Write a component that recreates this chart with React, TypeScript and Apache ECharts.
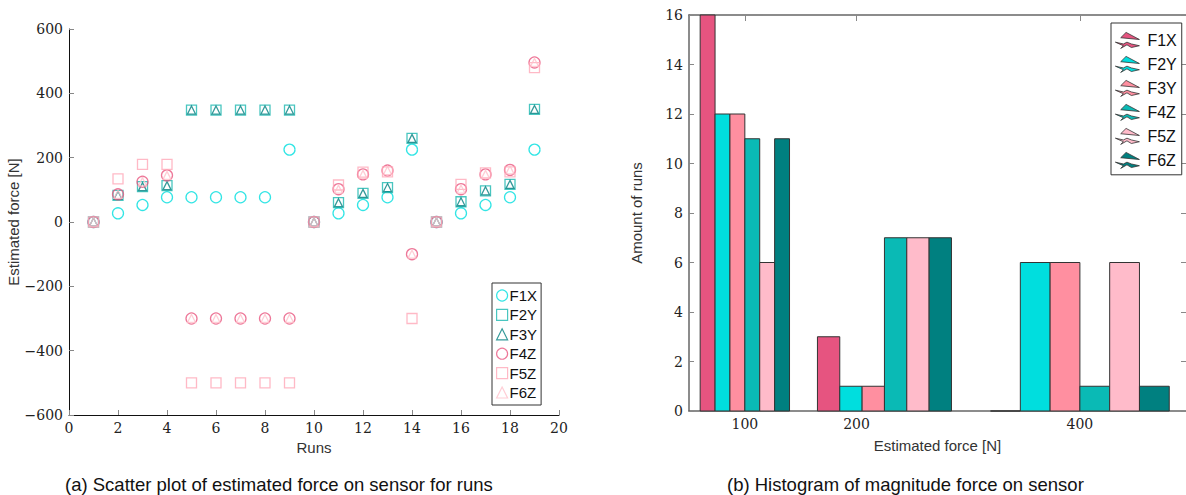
import React, { useEffect, useRef } from "react";
import * as echarts from "echarts";

// ---------- Scatter data (a) ----------
const runs = [1, 2, 3, 4, 5, 6, 7, 8, 9, 10, 11, 12, 13, 14, 15, 16, 17, 18, 19];
const f1x = [0, 27, 53, 77, 77, 77, 77, 77, 225, 0, 27, 53, 77, 225, 0, 27, 53, 77, 225];
const f2y = [0, 83, 110, 113, 348, 348, 348, 348, 348, 0, 60, 89, 107, 260, 0, 63, 97, 117, 350];
const f3y = [0, 83, 110, 113, 348, 348, 348, 348, 348, 0, 60, 89, 107, 260, 0, 63, 97, 117, 350];
const f4z = [0, 86, 125, 145, -300, -300, -300, -300, -300, 0, 102, 148, 160, -100, 0, 102, 148, 162, 496];
const f5z = [0, 134, 179, 179, -500, -500, -500, -500, -500, 0, 115, 155, 156, -300, 0, 117, 153, 156, 480];
const f6z = [0, 86, 125, 145, -300, -300, -300, -300, -300, 0, 102, 148, 160, -100, 0, 102, 148, 162, 496];

// ---------- Histogram data (b) ----------
const binTicks = [100, 200, 400];
const groupLeft = [60, 165, 320];
const groupRight = [140, 285, 480];
const hF1X = [16, 3, 0];
const hF2Y = [12, 1, 6];
const hF3Y = [12, 1, 6];
const hF4Z = [11, 7, 1];
const hF5Z = [6, 7, 6];
const hF6Z = [11, 7, 1];

const scatterSeriesDef = [
  { name: "F1X", values: f1x, symbol: "circle", color: "#00DEDE", size: 11 },
  { name: "F2Y", values: f2y, symbol: "rect", color: "#1CB8B0", size: 10 },
  { name: "F3Y", values: f3y, symbol: "triangle", color: "#008080", size: 8 },
  { name: "F4Z", values: f4z, symbol: "circle", color: "#E8567F", size: 11 },
  { name: "F5Z", values: f5z, symbol: "rect", color: "#FFA8B8", size: 10 },
  { name: "F6Z", values: f6z, symbol: "triangle", color: "#FFC0CB", size: 8 },
];

const histDef = [
  { name: "F1X", values: hF1X, color: "#E65480" },
  { name: "F2Y", values: hF2Y, color: "#00DEDE" },
  { name: "F3Y", values: hF3Y, color: "#FF8FA0" },
  { name: "F4Z", values: hF4Z, color: "#0ABAB5" },
  { name: "F5Z", values: hF5Z, color: "#FFBBCA" },
  { name: "F6Z", values: hF6Z, color: "#008080" },
];

const histIcon =
  "path://M12,0 L6,6 L27,8 Z M0,11 L9,15 L6,18 L13,14 L18,17 L27,15 L18,13 L13,11 L9,13 Z";

const serif = "DejaVu Serif";
const sans = "Liberation Sans";

const minusFmt = (v: number) => String(v).replace("-", "\u2212");

function buildOption() {
  const scatterSeries = scatterSeriesDef.map((s) => ({
    name: s.name,
    type: "scatter",
    xAxisIndex: 0,
    yAxisIndex: 0,
    symbol: s.symbol,
    symbolSize: s.size,
    itemStyle: { color: "rgba(0,0,0,0)", borderColor: s.color, borderWidth: 1.3 },
    data: runs.map((r, i) => [r, s.values[i]]),
  }));

  const nSeries = histDef.length;
  const histSeries = histDef.map((h, si) => ({
    name: "h" + h.name,
    type: "custom",
    xAxisIndex: 1,
    yAxisIndex: 1,
    encode: { x: [0, 1], y: 2 },
    data: h.values.map((v, gi) => {
      const w = (groupRight[gi] - groupLeft[gi]) / nSeries;
      const l = groupLeft[gi] + si * w;
      return [l, l + w, v];
    }),
    renderItem: (params: any, api: any) => {
      const p0 = api.coord([api.value(0), api.value(2)]);
      const p1 = api.coord([api.value(1), 0]);
      return {
        type: "rect",
        shape: { x: p0[0], y: p0[1], width: p1[0] - p0[0], height: p1[1] - p0[1] },
        style: { fill: h.color, stroke: "#333", lineWidth: 1 },
      };
    },
  }));

  const axisLabelSerif = { fontFamily: serif, fontSize: 14, color: "#222" };
  const nameStyle = { fontFamily: sans, fontSize: 15, color: "#333" };

  return {
    animation: false,
    backgroundColor: "#fff",
    textStyle: { fontFamily: sans },
    grid: [
      { left: 69, top: 29, width: 490, height: 386 },
      { left: 689, top: 15, width: 497, height: 396 },
    ],
    xAxis: [
      {
        type: "value",
        gridIndex: 0,
        min: 0,
        max: 20,
        interval: 2,
        name: "Runs",
        nameLocation: "middle",
        nameGap: 25,
        nameTextStyle: nameStyle,
        axisLine: { show: true, onZero: false, lineStyle: { color: "#111", width: 1 } },
        axisTick: { show: true, inside: true, length: 5, lineStyle: { color: "#888" } },
        axisLabel: { ...axisLabelSerif, margin: 6 },
        splitLine: { show: false },
      },
      {
        type: "value",
        gridIndex: 1,
        min: 50,
        max: 495,
        name: "Estimated force [N]",
        nameLocation: "middle",
        nameGap: 27,
        nameTextStyle: nameStyle,
        axisLine: { show: true, onZero: false, lineStyle: { color: "#666", width: 1.5 } },
        axisTick: { show: false, customValues: binTicks },
        axisLabel: { ...axisLabelSerif, margin: 6, customValues: binTicks },
        splitLine: { show: false },
      },
      {
        type: "value",
        gridIndex: 1,
        position: "top",
        min: 50,
        max: 495,
        axisLine: { show: true, onZero: false, lineStyle: { color: "#666", width: 1.5 } },
        axisTick: { show: true, inside: true, length: 6, customValues: binTicks, lineStyle: { color: "#888" } },
        axisLabel: { show: false },
        splitLine: { show: false },
      },
    ],
    yAxis: [
      {
        type: "value",
        gridIndex: 0,
        min: -600,
        max: 600,
        interval: 200,
        name: "Estimated force [N]",
        nameLocation: "middle",
        nameGap: 46,
        nameTextStyle: nameStyle,
        axisLine: { show: true, onZero: false, lineStyle: { color: "#111", width: 1 } },
        axisTick: { show: true, inside: true, length: 5, lineStyle: { color: "#888" } },
        axisLabel: { ...axisLabelSerif, margin: 6, formatter: minusFmt },
        splitLine: { show: false },
      },
      {
        type: "value",
        gridIndex: 1,
        min: 0,
        max: 16,
        interval: 2,
        name: "Amount of runs",
        nameLocation: "middle",
        nameGap: 45,
        nameTextStyle: nameStyle,
        axisLine: { show: true, onZero: false, lineStyle: { color: "#666", width: 1.5 } },
        axisTick: { show: true, inside: true, length: 5, lineStyle: { color: "#888" } },
        axisLabel: { ...axisLabelSerif, margin: 6 },
        splitLine: { show: false },
      },
      {
        type: "value",
        gridIndex: 1,
        position: "right",
        min: 0,
        max: 16,
        interval: 2,
        axisLine: { show: false },
        axisTick: { show: true, inside: true, length: 5, lineStyle: { color: "#888" } },
        axisLabel: { show: false },
        splitLine: { show: false },
      },
    ],
    legend: [
      {
        orient: "vertical",
        left: 492,
        top: 283,
        padding: [5, 4, 5, 4],
        itemWidth: 11,
        itemHeight: 11,
        itemGap: 4.4,
        backgroundColor: "#fff",
        borderColor: "#333",
        borderWidth: 1,
        borderRadius: 0,
        selectedMode: false,
        textStyle: { fontFamily: sans, fontSize: 15, color: "#111", padding: [0, 0, 0, -3] },
        data: scatterSeriesDef.map((s) => ({
          name: s.name,
          icon: s.symbol,
          itemStyle: { color: "rgba(0,0,0,0)", borderColor: s.color, borderWidth: 1.2 },
        })),
      },
      {
        orient: "vertical",
        left: 1111,
        top: 23,
        padding: [9, 5, 6, 4],
        itemWidth: 24,
        itemHeight: 19,
        itemGap: 7.2,
        backgroundColor: "#fff",
        borderColor: "#333",
        borderWidth: 1,
        borderRadius: 0,
        selectedMode: false,
        formatter: (n: string) => n.slice(1),
        textStyle: { fontFamily: sans, fontSize: 16, color: "#111", padding: [0, 0, 0, 3] },
        data: histDef.map((h) => ({
          name: "h" + h.name,
          icon: histIcon,
          itemStyle: { color: h.color, borderColor: "#333", borderWidth: 0.8 },
        })),
      },
    ],
    graphic: [
      {
        type: "text",
        left: 65,
        top: 475,
        style: {
          text: "(a) Scatter plot of estimated force on sensor for runs",
          fontFamily: sans,
          fontSize: 18.5,
          fill: "#111",
        },
      },
      {
        type: "text",
        left: 727,
        top: 475,
        style: {
          text: "(b) Histogram of magnitude force on sensor",
          fontFamily: sans,
          fontSize: 18.5,
          fill: "#111",
        },
      },
    ],
    series: [...scatterSeries, ...histSeries],
  };
}

export default function App() {
  const ref = useRef<HTMLDivElement>(null);
  useEffect(() => {
    if (!ref.current) return;
    const chart = echarts.init(ref.current, null, { renderer: "svg" });
    chart.setOption(buildOption() as any);
    return () => chart.dispose();
  }, []);
  return (
    <div
      ref={ref}
      style={{ position: "absolute", left: 0, top: 0, width: 1186, height: 495, background: "#fff" }}
    />
  );
}
